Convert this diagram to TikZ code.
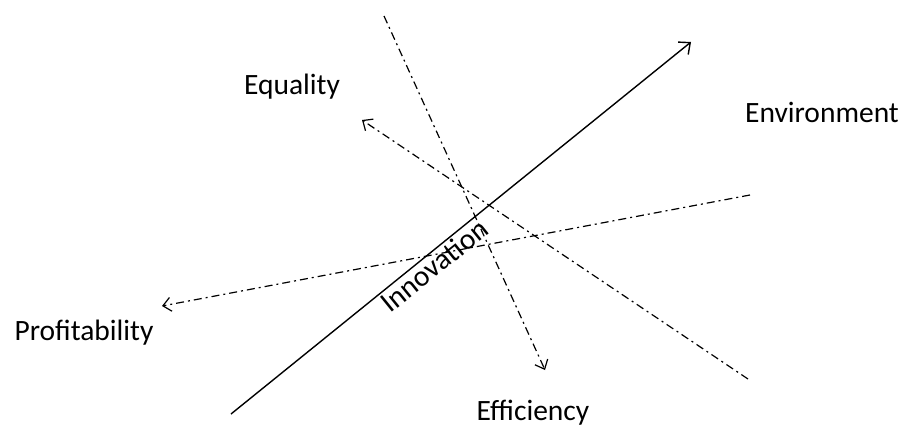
\documentclass[tikz,border=0pt]{standalone}
\usepackage{fontspec}
\setmainfont{Carlito}
\usetikzlibrary{arrows.meta}
\begin{document}
\begin{tikzpicture}[x=1pt,y=-1pt,
  lbl/.style={font=\fontsize{29.5}{34}\selectfont, inner sep=0pt},
  axis/.style={line width=1.4pt, -{Straight Barb[length=9pt,width=16pt,line width=1.4pt]}},
  dashaxis/.style={line width=1.2pt, dash pattern=on 8pt off 4pt on 2pt off 4pt,
     -{Straight Barb[length=8pt,width=14pt,line width=1.2pt]}}]
  \useasboundingbox (0,0) rectangle (909,433);
  % end points of the four axes
  \coordinate (innS) at (231,414);
  \coordinate (innE) at (691,42);
  \coordinate (proS) at (750,195);
  \coordinate (proE) at (162,306);
  \coordinate (equS) at (748,379);
  \coordinate (equE) at (362,120);
  \coordinate (effS) at (384,16);
  \coordinate (effE) at (545,370);
  % axes
  \draw[axis] (innS) -- node[lbl, sloped, below=1.5pt, pos=0.425] (inn) {Innovation} (innE);
  \draw[dashaxis] (proS) -- (proE);
  \draw[dashaxis] (equS) -- (equE);
  \draw[dashaxis] (effS) -- (effE);
  % labels
  \node[lbl] (equ) at (292,87) {Equality};
  \node[lbl] (env) at (822,112) {Environment};
  \node[lbl] (pro) at (84,333) {Profitability};
  \node[lbl] (eff) at (533,413) {Efficiency};
\end{tikzpicture}
\end{document}
